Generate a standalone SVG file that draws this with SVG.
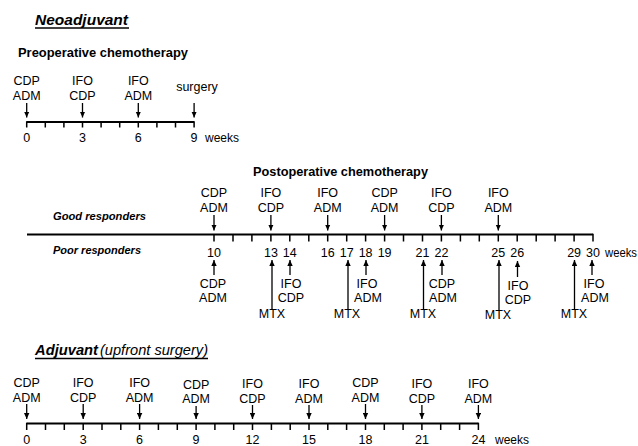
<svg xmlns="http://www.w3.org/2000/svg" width="638" height="446" viewBox="0 0 638 446">
<style>
  text { font-family: "Liberation Sans", Arial, sans-serif; fill: #000; }
  .lbl { font-size: 12.5px; text-anchor: middle; }
  .num { font-size: 12.5px; text-anchor: middle; }
  .wk { font-size: 12px; }
  .ttl { font-size: 13px; font-weight: bold; }
  .grp { font-size: 11.5px; font-weight: bold; font-style: italic; }
  .big { font-size: 15px; font-weight: bold; font-style: italic; }
  .sub { font-size: 14px; font-style: italic; }
  .axis { stroke: #000; stroke-width: 1.8; fill: none; }
  .tick { stroke: #000; stroke-width: 1.5; fill: none; }
  .arr { stroke: #000; stroke-width: 1.3; fill: none; marker-end: url(#ah); }
  .ul { stroke: #000; stroke-width: 1.3; }
</style>
<defs>
  <marker id="ah" markerUnits="userSpaceOnUse" markerWidth="6" markerHeight="6" refX="6" refY="3" orient="auto">
    <path d="M0,0.3 L6,3 L0,5.7 z" fill="#000"/>
  </marker>
</defs>
<rect width="638" height="446" fill="#fff"/>

<!-- Titles -->
<g id="title-neoadjuvant">
  <text class="big" x="35" y="25" textLength="93" lengthAdjust="spacingAndGlyphs">Neoadjuvant</text>
  <line class="ul" x1="35" y1="28" x2="129" y2="28"/>
</g>
<g id="title-preop">
  <text class="ttl" x="18" y="57" textLength="170" lengthAdjust="spacingAndGlyphs">Preoperative chemotherapy</text>
</g>
<g id="title-postop">
  <text class="ttl" x="253" y="176" textLength="175" lengthAdjust="spacingAndGlyphs">Postoperative chemotherapy</text>
</g>
<g id="label-good">
  <text class="grp" x="53" y="220" textLength="93" lengthAdjust="spacingAndGlyphs">Good responders</text>
</g>
<g id="label-poor">
  <text class="grp" x="53" y="253.5" textLength="88" lengthAdjust="spacingAndGlyphs">Poor responders</text>
</g>
<g id="title-adjuvant">
  <text class="big" x="35" y="355" textLength="63" lengthAdjust="spacingAndGlyphs">Adjuvant</text>
  <text class="sub" x="100" y="355" textLength="108" lengthAdjust="spacingAndGlyphs">(upfront surgery)</text>
  <line class="ul" x1="35" y1="358.5" x2="208" y2="358.5"/>
</g>

<!-- Axes -->
<g id="axis-preop">
  <line class="axis" x1="26.7" y1="122" x2="194.1" y2="122"/>
  <path class="tick" d="M26.7,121.2V127.5 M45.3,122V127.5 M63.9,122V127.5 M82.5,122V127.5 M101.1,122V127.5 M119.7,122V127.5 M138.3,122V127.5 M156.9,122V127.5 M175.5,122V127.5 M194.1,121.2V127.5"/>
  <text class="num" x="26.7" y="141.5">0</text>
  <text class="num" x="82.5" y="141.5">3</text>
  <text class="num" x="138.3" y="141.5">6</text>
  <text class="num" x="194.1" y="141.5">9</text>
  <text class="wk" x="205" y="141.5">weeks</text>
</g>
<g id="axis-postop">
  <line class="axis" x1="27" y1="234.5" x2="593" y2="234.5"/>
  <path class="tick" d="M214,234.5V241.5 M233,234.5V241.5 M251.9,234.5V241.5 M270.9,234.5V241.5 M289.8,234.5V241.5 M308.8,234.5V241.5 M327.7,234.5V241.5 M346.7,234.5V241.5 M365.6,234.5V241.5 M384.6,234.5V241.5 M403.5,234.5V241.5 M422.5,234.5V241.5 M441.4,234.5V241.5 M460.4,234.5V241.5 M479.3,234.5V241.5 M498.3,234.5V241.5 M517.2,234.5V241.5 M536.2,234.5V241.5 M555.1,234.5V241.5 M574.1,234.5V241.5 M593,233.7V241.5"/>
  <text class="num" x="214" y="256.5">10</text>
  <text class="num" x="270.9" y="256.5">13</text>
  <text class="num" x="289.8" y="256.5">14</text>
  <text class="num" x="327.7" y="256.5">16</text>
  <text class="num" x="346.7" y="256.5">17</text>
  <text class="num" x="365.6" y="256.5">18</text>
  <text class="num" x="384.6" y="256.5">19</text>
  <text class="num" x="422.5" y="256.5">21</text>
  <text class="num" x="441.4" y="256.5">22</text>
  <text class="num" x="498.3" y="256.5">25</text>
  <text class="num" x="517.2" y="256.5">26</text>
  <text class="num" x="574.1" y="256.5">29</text>
  <text class="num" x="593" y="256.5">30</text>
  <text class="wk" x="605" y="256.5" textLength="32" lengthAdjust="spacingAndGlyphs">weeks</text>
</g>
<g id="axis-adjuvant">
  <line class="axis" x1="26.7" y1="423.5" x2="478.4" y2="423.5"/>
  <path class="tick" d="M26.7,422.7V430 M45.5,423.5V430 M64.3,423.5V430 M83.2,423.5V430 M102,423.5V430 M120.8,423.5V430 M139.6,423.5V430 M158.4,423.5V430 M177.3,423.5V430 M196.1,423.5V430 M214.9,423.5V430 M233.7,423.5V430 M252.5,423.5V430 M271.4,423.5V430 M290.2,423.5V430 M309,423.5V430 M327.8,423.5V430 M346.6,423.5V430 M365.5,423.5V430 M384.3,423.5V430 M403.1,423.5V430 M421.9,423.5V430 M440.7,423.5V430 M459.6,423.5V430 M478.4,422.7V430"/>
  <text class="num" x="26.7" y="443.5">0</text>
  <text class="num" x="83.2" y="443.5">3</text>
  <text class="num" x="139.6" y="443.5">6</text>
  <text class="num" x="196.1" y="443.5">9</text>
  <text class="num" x="252.5" y="443.5">12</text>
  <text class="num" x="309" y="443.5">15</text>
  <text class="num" x="365.5" y="443.5">18</text>
  <text class="num" x="421.9" y="443.5">21</text>
  <text class="num" x="478.4" y="443.5">24</text>
  <text class="wk" x="495" y="443.5">weeks</text>
</g>

<!-- Preoperative drug labels -->
<g id="pre-w0"><text class="lbl" x="26.7" y="85">CDP</text><text class="lbl" x="26.7" y="100">ADM</text></g>
<g id="pre-w3"><text class="lbl" x="82.5" y="85">IFO</text><text class="lbl" x="82.5" y="100">CDP</text></g>
<g id="pre-w6"><text class="lbl" x="138.3" y="85">IFO</text><text class="lbl" x="138.3" y="100">ADM</text></g>
<g id="pre-w9"><text class="lbl" x="197" y="90.5">surgery</text></g>

<!-- Good responders labels -->
<g id="good-w10"><text class="lbl" x="214" y="196.5">CDP</text><text class="lbl" x="214" y="212">ADM</text></g>
<g id="good-w13"><text class="lbl" x="270.9" y="196.5">IFO</text><text class="lbl" x="270.9" y="212">CDP</text></g>
<g id="good-w16"><text class="lbl" x="327.7" y="196.5">IFO</text><text class="lbl" x="327.7" y="212">ADM</text></g>
<g id="good-w19"><text class="lbl" x="384.6" y="196.5">CDP</text><text class="lbl" x="384.6" y="212">ADM</text></g>
<g id="good-w22"><text class="lbl" x="441.4" y="196.5">IFO</text><text class="lbl" x="441.4" y="212">CDP</text></g>
<g id="good-w25"><text class="lbl" x="498.3" y="196.5">IFO</text><text class="lbl" x="498.3" y="212">ADM</text></g>

<!-- Poor responders labels -->
<g id="poor-w10"><text class="lbl" x="213" y="288">CDP</text><text class="lbl" x="213" y="302">ADM</text></g>
<g id="poor-w13"><text class="lbl" x="272" y="318">MTX</text></g>
<g id="poor-w14"><text class="lbl" x="291" y="288">IFO</text><text class="lbl" x="291" y="302">CDP</text></g>
<g id="poor-w17"><text class="lbl" x="347" y="318">MTX</text></g>
<g id="poor-w18"><text class="lbl" x="367" y="288">IFO</text><text class="lbl" x="368" y="302">ADM</text></g>
<g id="poor-w21"><text class="lbl" x="423" y="318">MTX</text></g>
<g id="poor-w22"><text class="lbl" x="442" y="288">CDP</text><text class="lbl" x="443" y="302">ADM</text></g>
<g id="poor-w25"><text class="lbl" x="498" y="319">MTX</text></g>
<g id="poor-w26"><text class="lbl" x="518" y="290">IFO</text><text class="lbl" x="518" y="304">CDP</text></g>
<g id="poor-w29"><text class="lbl" x="574" y="318">MTX</text></g>
<g id="poor-w30"><text class="lbl" x="594" y="288">IFO</text><text class="lbl" x="595" y="302">ADM</text></g>

<!-- Adjuvant labels -->
<g id="adj-w0"><text class="lbl" x="26.7" y="386.5">CDP</text><text class="lbl" x="26.7" y="401.5">ADM</text></g>
<g id="adj-w3"><text class="lbl" x="83.2" y="386.5">IFO</text><text class="lbl" x="83.2" y="401.5">CDP</text></g>
<g id="adj-w6"><text class="lbl" x="139.6" y="386.5">IFO</text><text class="lbl" x="139.6" y="401.5">ADM</text></g>
<g id="adj-w9"><text class="lbl" x="196.1" y="388.5">CDP</text><text class="lbl" x="196.1" y="403">ADM</text></g>
<g id="adj-w12"><text class="lbl" x="252.5" y="388">IFO</text><text class="lbl" x="252.5" y="402.5">CDP</text></g>
<g id="adj-w15"><text class="lbl" x="309" y="388">IFO</text><text class="lbl" x="309" y="402.5">ADM</text></g>
<g id="adj-w18"><text class="lbl" x="365.5" y="386.5">CDP</text><text class="lbl" x="365.5" y="401.5">ADM</text></g>
<g id="adj-w21"><text class="lbl" x="421.9" y="388">IFO</text><text class="lbl" x="421.9" y="402.5">CDP</text></g>
<g id="adj-w24"><text class="lbl" x="478.4" y="388">IFO</text><text class="lbl" x="478.4" y="402.5">ADM</text></g>

<!-- Connectors -->
<g id="connectors">
  <line class="arr" x1="26.7" y1="103" x2="26.7" y2="117.5"/>
  <line class="arr" x1="82.5" y1="103" x2="82.5" y2="117.5"/>
  <line class="arr" x1="138.3" y1="103" x2="138.3" y2="117.5"/>
  <line class="arr" x1="194.1" y1="103" x2="194.1" y2="117.5"/>

  <line class="arr" x1="214" y1="215" x2="214" y2="230.5"/>
  <line class="arr" x1="270.9" y1="215" x2="270.9" y2="230.5"/>
  <line class="arr" x1="327.7" y1="215" x2="327.7" y2="230.5"/>
  <line class="arr" x1="384.6" y1="215" x2="384.6" y2="230.5"/>
  <line class="arr" x1="441.4" y1="215" x2="441.4" y2="230.5"/>
  <line class="arr" x1="498.3" y1="215" x2="498.3" y2="230.5"/>

  <line class="arr" x1="214" y1="275" x2="214" y2="260"/>
  <line class="arr" x1="272" y1="309" x2="272" y2="260"/>
  <line class="arr" x1="290" y1="275" x2="290" y2="260"/>
  <line class="arr" x1="348" y1="309" x2="348" y2="260"/>
  <line class="arr" x1="366" y1="275" x2="366" y2="260"/>
  <line class="arr" x1="423.5" y1="309" x2="423.5" y2="260"/>
  <line class="arr" x1="442" y1="275" x2="442" y2="260"/>
  <line class="arr" x1="499" y1="310" x2="499" y2="260"/>
  <line class="arr" x1="517.5" y1="277" x2="517.5" y2="261"/>
  <line class="arr" x1="574.5" y1="309" x2="574.5" y2="260"/>
  <line class="arr" x1="592" y1="275" x2="592" y2="260"/>

  <line class="arr" x1="26.7" y1="404" x2="26.7" y2="419"/>
  <line class="arr" x1="83.2" y1="404" x2="83.2" y2="419"/>
  <line class="arr" x1="139.6" y1="404" x2="139.6" y2="419"/>
  <line class="arr" x1="196.1" y1="406" x2="196.1" y2="419"/>
  <line class="arr" x1="252.5" y1="405" x2="252.5" y2="419"/>
  <line class="arr" x1="309" y1="405" x2="309" y2="419"/>
  <line class="arr" x1="365.5" y1="404" x2="365.5" y2="419"/>
  <line class="arr" x1="421.9" y1="405" x2="421.9" y2="419"/>
  <line class="arr" x1="478.4" y1="405" x2="478.4" y2="419"/>
</g>
</svg>
